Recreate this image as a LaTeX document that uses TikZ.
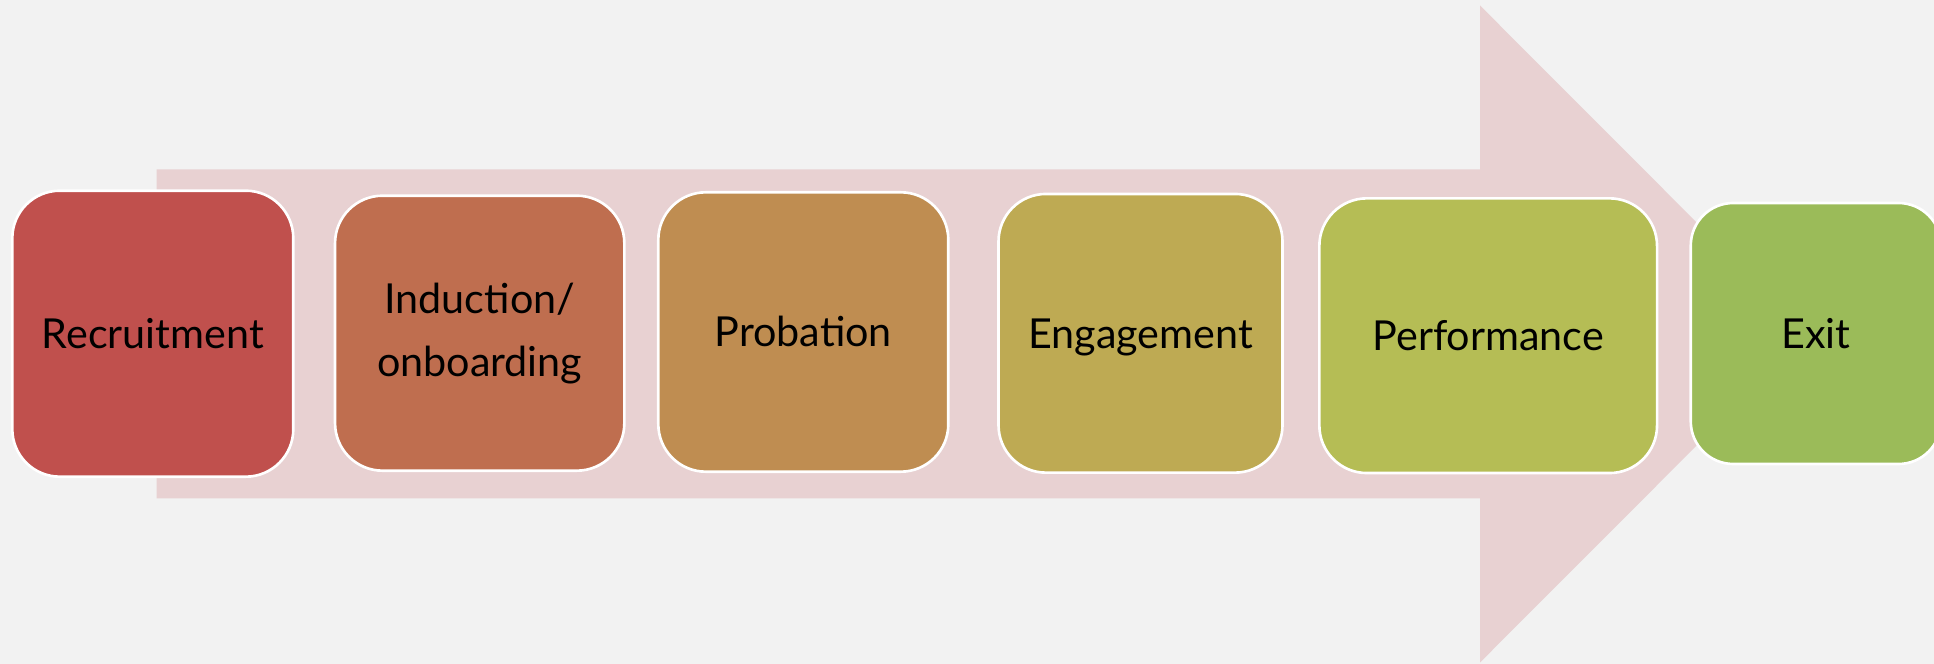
\documentclass[tikz,border=0pt]{standalone}
\usepackage{fontspec}
\setmainfont{Lato}
\usepackage{tikz}

\definecolor{pagebg}{HTML}{F2F2F2}
\definecolor{arrowpink}{HTML}{E8D1D2}
\definecolor{recred}{HTML}{C0504D}
\definecolor{indorange}{HTML}{BF6E4F}
\definecolor{probochre}{HTML}{BF8D51}
\definecolor{engolive}{HTML}{BEAA53}
\definecolor{perflime}{HTML}{B5BD55}
\definecolor{exitgreen}{HTML}{9BBB59}

\begin{document}
\begin{tikzpicture}[
        stage/.style = {draw=white, line width=1.5pt, rounded corners=0.95cm, inner sep=0pt, align=center, font=\fontsize{23.5}{35.7}\selectfont},
        oneline/.style = {text height=0.59cm, text depth=0pt}
    ]
        \useasboundingbox (0,0) rectangle (38.68,13.28);
        \fill[pagebg] (0,0) rectangle (38.68,13.28);
        % the wide arrow behind the stages
        \fill[arrowpink] (3.13,3.31) -- (3.13,9.89) -- (29.6,9.89) -- (29.6,13.17) -- (36.16,6.6) -- (29.6,0.03) -- (29.6,3.31) -- cycle;
        %\draw[dashed] (0,6.6) -- (38.68,6.6);
        \node[stage, oneline, fill=recred, minimum width=5.62cm, minimum height=5.72cm] (rec) at (3.056,6.606) {Recruitment};
        \node[stage, fill=indorange, minimum width=5.786cm, minimum height=5.5cm] (ind) at (9.594,6.616) {Induction/\\onboarding};
        \node[stage, oneline, fill=probochre, minimum width=5.8cm, minimum height=5.588cm] (prob) at (16.066,6.64) {Probation};
        \node[stage, oneline, fill=engolive, minimum width=5.68cm, minimum height=5.574cm] (eng) at (22.81,6.614) {Engagement};
        \node[stage, oneline, fill=perflime, minimum width=6.754cm, minimum height=5.494cm] (perf) at (29.764,6.566) {Performance};
        \node[stage, oneline, fill=exitgreen, rounded corners=0.85cm, minimum width=5.006cm, minimum height=5.22cm] (exit) at (36.318,6.61) {Exit};
\end{tikzpicture}
\end{document}
